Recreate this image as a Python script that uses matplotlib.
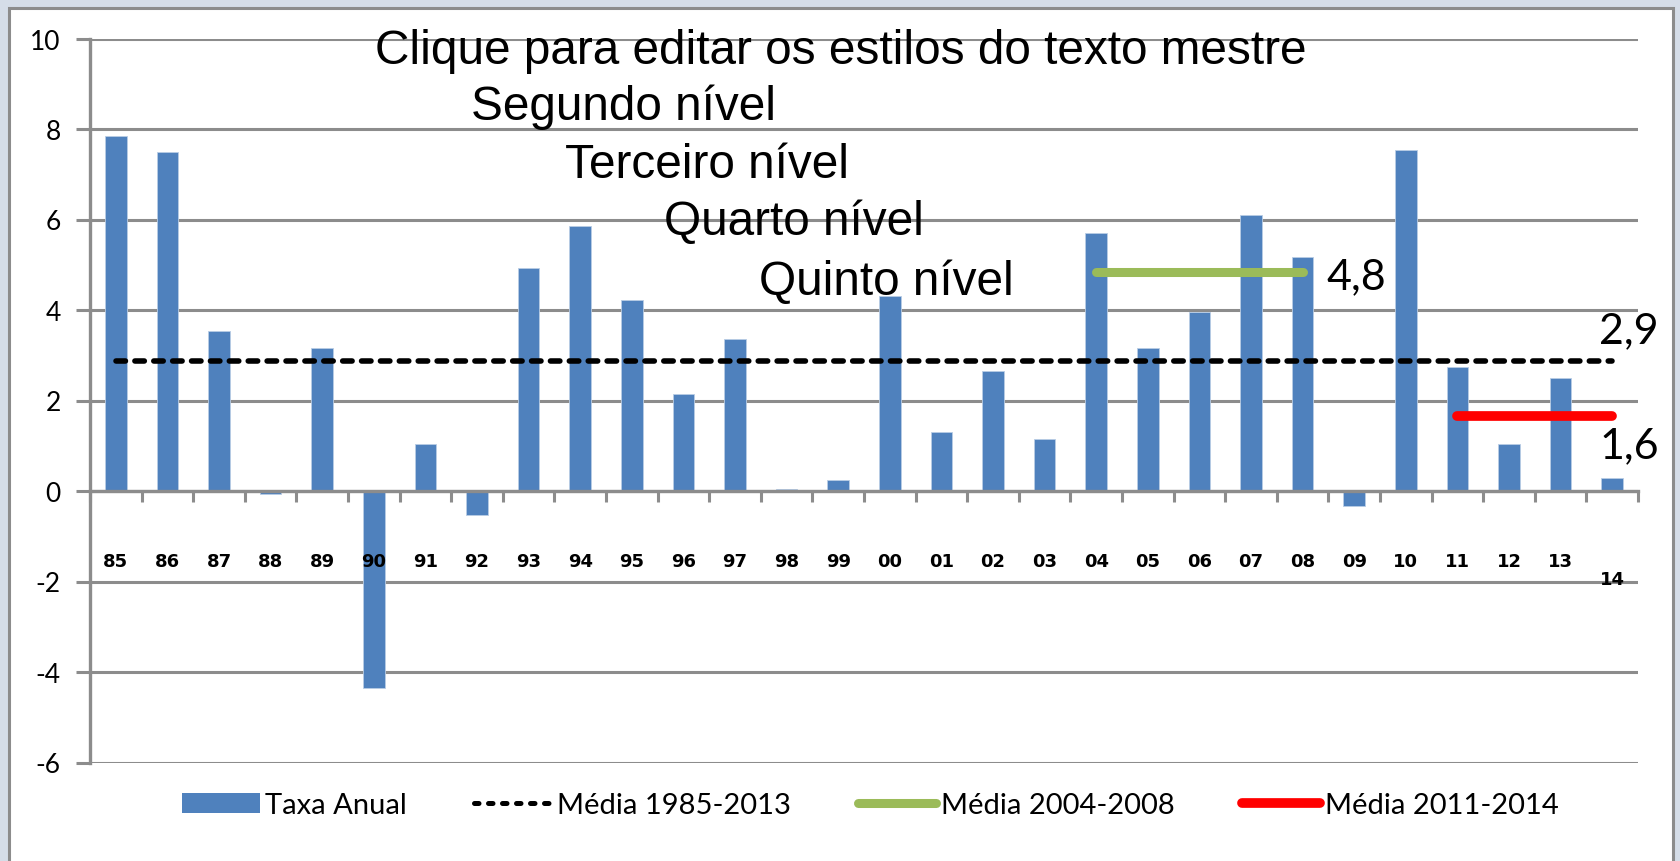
import matplotlib
matplotlib.use("Agg")
import matplotlib.pyplot as plt
from matplotlib.patches import Rectangle, Patch
from matplotlib.lines import Line2D
import numpy as np

plt.rcParams["axes.unicode_minus"] = False

# dados
anos = [1985, 1986, 1987, 1988, 1989, 1990, 1991, 1992, 1993, 1994,
        1995, 1996, 1997, 1998, 1999, 2000, 2001, 2002, 2003, 2004,
        2005, 2006, 2007, 2008, 2009, 2010, 2011, 2012, 2013, 2014]
taxa_anual = [7.85, 7.49, 3.53, -0.06, 3.16, -4.35, 1.03, -0.54, 4.92, 5.85,
              4.22, 2.15, 3.35, 0.04, 0.25, 4.31, 1.31, 2.66, 1.15, 5.71,
              3.16, 3.96, 6.09, 5.17, -0.33, 7.53, 2.73, 1.03, 2.49, 0.28]
media_85_13 = 2.87
media_04_08 = 4.83
media_11_14 = 1.65
rotulos_media = ["2,9", "4,8", "1,6"]
textos_mestre = ["Clique para editar os estilos do texto mestre", "Segundo nível",
                 "Terceiro nível", "Quarto nível", "Quinto nível"]

W, H = 1680, 862
fig = plt.figure(figsize=(W / 100, H / 100), dpi=100)
fig.patch.set_facecolor("#D5DDE8")
fig.patches.append(Rectangle((9 / W, -0.02), (1673 - 9) / W, (862 - 9) / H + 0.02,
                             transform=fig.transFigure, facecolor="white",
                             edgecolor="#8C8C8C", lw=2.2, zorder=-1))

ax = fig.add_axes([90 / W, 1 - 763.5 / H, (1638 - 90) / W, (763.5 - 39.5) / H])
ax.set_facecolor("none")
cinza = "#8C8C8C"
x = np.arange(len(anos))

ax.bar(x, taxa_anual, width=0.42, color="#4F81BD", edgecolor="#B9CDE5", lw=0.6, zorder=2)

# medias
ax.plot([x[0], x[-1]], [media_85_13] * 2, color="black", lw=4,
        ls=(0, (1.7, 1.7)), dash_capstyle="round", zorder=3)
i04 = anos.index(2004); i08 = anos.index(2008)
ax.plot([x[i04], x[i08]], [media_04_08] * 2, color="#9BBB59", lw=6.5,
        solid_capstyle="round", zorder=3)
i11 = anos.index(2011); i14 = anos.index(2014)
ax.plot([x[i11], x[i14]], [media_11_14] * 2, color="#FF0000", lw=7,
        solid_capstyle="round", zorder=3)

rot_font = dict(family="Lato", fontsize=31, color="black")
ax.text(x[i08] + 0.47, media_04_08 - 0.08, rotulos_media[1], ha="left", va="center", **rot_font)
ax.text(x[-1] - 0.26, media_85_13 + 0.68, rotulos_media[0], ha="left", va="center", **rot_font)
ax.text(x[-1] - 0.24, media_11_14 - 0.64, rotulos_media[2], ha="left", va="center", **rot_font)

# eixos
ax.set_xlim(-0.5, len(anos) - 0.5)
ax.set_ylim(-6, 10)
ax.set_yticks(np.arange(-6, 11, 2))
ax.yaxis.grid(True, color=cinza, lw=2.2, zorder=0)
ax.set_axisbelow(True)
ax.set_xticks(np.arange(-0.5, len(anos)), labels=[])
ax.tick_params(axis="x", direction="out", length=8, width=2.2, color=cinza)
ax.tick_params(axis="y", direction="out", length=10, width=2.2, color=cinza,
               labelsize=19, pad=11)
for lab in ax.get_yticklabels():
    lab.set_family("Lato")
for s in ["top", "right"]:
    ax.spines[s].set_visible(False)
ax.spines["bottom"].set_position(("data", 0))
for s in ["left", "bottom"]:
    ax.spines[s].set_color(cinza)
    ax.spines[s].set_linewidth(2.4)
ax.spines["left"].set_zorder(4)

# rotulos de categoria (anos)
for i, a in enumerate(anos):
    yy = -1.95 if i == len(anos) - 1 else -1.55
    ax.text(i, yy, str(a)[-2:], ha="center", va="center", fontsize=13,
            fontweight="bold", family="DejaVu Sans", zorder=5)

# texto mestre sobreposto
pos_texto = [(375, 51), (471, 107), (565, 166), (664, 223), (759, 282)]
for t, (px, py) in zip(textos_mestre, pos_texto):
    fig.text(px / W, 1 - py / H, t, ha="left", va="center", fontsize=34.4,
             family="Liberation Sans", color="black", zorder=10)

# legenda
handles = [Patch(facecolor="#4F81BD", edgecolor="none"),
           Line2D([], [], color="black", lw=3.6, ls=(0, (0.9, 1.9)), dash_capstyle="round"),
           Line2D([], [], color="#9BBB59", lw=6.5, solid_capstyle="round"),
           Line2D([], [], color="#FF0000", lw=7, solid_capstyle="round")]
labels = ["Taxa Anual", "Média 1985-2013", "Média 2004-2008", "Média 2011-2014"]
fig.legend(handles, labels, loc="center", bbox_to_anchor=(870 / W, 1 - 806 / H), ncol=4,
           frameon=False, prop={"family": "Lato", "size": 21}, handlelength=2.7,
           handleheight=0.7, handletextpad=0.15, columnspacing=2.3)

fig.savefig("out.png", dpi=100)
